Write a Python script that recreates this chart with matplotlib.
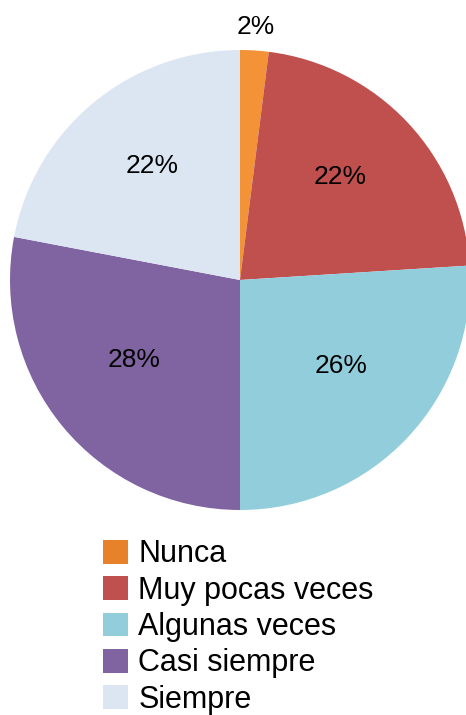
import numpy as np
import matplotlib.pyplot as plt
from matplotlib.patches import Patch

plt.rcParams['font.family'] = ['Liberation Sans', 'DejaVu Sans']

categories = ['Nunca', 'Muy pocas veces', 'Algunas veces', 'Casi siempre', 'Siempre']
values = [2, 22, 26, 28, 22]
slice_colors = ['#F39237', '#C0504D', '#92CDDC', '#8064A2', '#DCE6F2']
legend_colors = ['#E8822A', '#C0504D', '#92CDDC', '#8064A2', '#DCE6F2']

fig = plt.figure(figsize=(4.66, 7.15), dpi=100)
ax = fig.add_axes([10 / 466, (715 - 510) / 715, 460 / 466, 460 / 715])

wedges, texts, autotexts = ax.pie(values, colors=slice_colors, startangle=90,
                                  counterclock=False, autopct='%1.0f%%',
                                  pctdistance=0.6, radius=1,
                                  textprops={'fontsize': 19, 'color': 'black'})
ax.set_xlim(-1, 1)
ax.set_ylim(-1, 1)
ax.set_aspect('equal')
ax.axis('off')

for w, t, v in zip(wedges, autotexts, values):
    ang = np.deg2rad((w.theta1 + w.theta2) / 2)
    if v < 5:
        # small slice gets its label outside
        t.set_position((1.1 * np.cos(ang), 1.1 * np.sin(ang)))
    else:
        x, y = t.get_position()
        t.set_position((x, y + 0.035))

handles = [Patch(facecolor=c, edgecolor='none') for c in legend_colors]
fig.legend(handles, categories, loc='upper left',
           bbox_to_anchor=(91 / 466, (715 - 527) / 715),
           frameon=False, fontsize=22, handlelength=0.82, handleheight=0.82,
           handletextpad=0.33, labelspacing=0.21, borderaxespad=0)

fig.savefig('out.png', dpi=100)
